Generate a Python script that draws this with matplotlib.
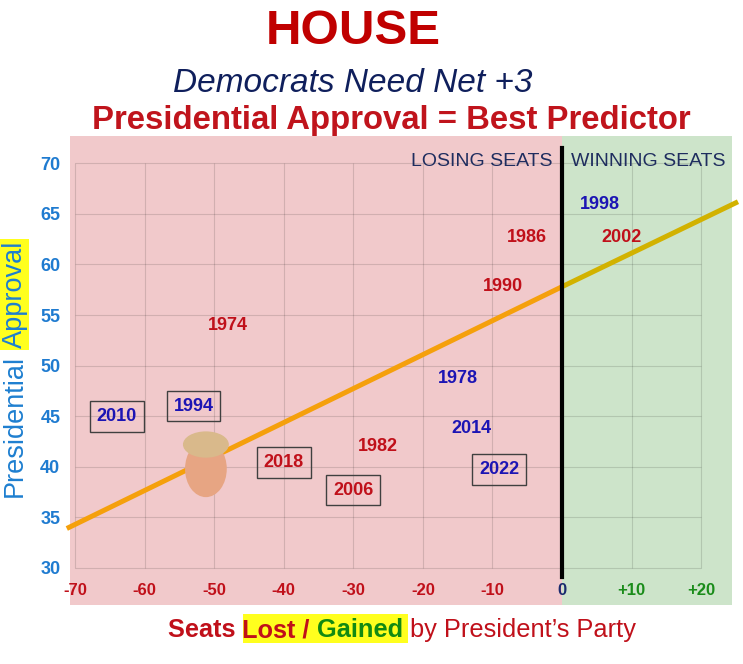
import matplotlib
matplotlib.use('Agg')
import matplotlib.pyplot as plt
from matplotlib.patches import Ellipse, Rectangle

plt.rcParams['font.family'] = ['Liberation Sans', 'DejaVu Sans']

# midterm elections: seats lost/gained vs presidential approval
years = ['1974', '2010', '1994', '2018', '1982', '2006', '1978', '2014', '2022',
         '1990', '1986', '1998', '2002']
seats = [-48, -64, -53, -40, -26.5, -30, -15, -13, -9, -8.5, -5, 5.5, 8.5]
approval = [54, 45, 46, 40.4, 42, 37.7, 48.7, 43.8, 39.7, 57.8, 62.7, 65.9, 62.7]
party = ['R', 'D', 'D', 'R', 'R', 'R', 'D', 'D', 'D', 'R', 'R', 'D', 'R']
boxed = ['2010', '1994', '2018', '2006', '2022']

# trend line
fit_x = [-71.2, 0, 25.3]
fit_y = [33.9, 57.8, 66.2]

# 2026 marker (face)
face_seats = -51.2
face_approval = 40.3

xticks = [-70, -60, -50, -40, -30, -20, -10, 0, 10, 20]
xlabels = ['-70', '-60', '-50', '-40', '-30', '-20', '-10', '0', '+10', '+20']
yticks = [30, 35, 40, 45, 50, 55, 60, 65, 70]

RED = '#c0101a'
BLUE = '#1c14b4'
YELLOW = '#ffff1e'
party_color = {'R': RED, 'D': BLUE}

W, H = 743, 664
fig = plt.figure(figsize=(W / 100, H / 100), dpi=100)
ax = fig.add_axes([0.0942, 0.0889, 0.891, 0.7063])
xmin, xmax = -70.74, 24.44
ymin, ymax = 26.34, 72.7
ax.set_xlim(xmin, xmax)
ax.set_ylim(ymin, ymax)

ax.axvspan(xmin, 0, color='#f1c9cb', zorder=0, lw=0)
ax.axvspan(0, xmax, color='#cde4ca', zorder=0, lw=0)

# grid only over the data range
ax.vlines(xticks, 30, 70, color='black', alpha=0.13, lw=0.8, zorder=1)
ax.hlines(yticks, -70, 20, color='black', alpha=0.13, lw=0.8, zorder=1)

# trend line, olive where it crosses the green zone
ax.plot(fit_x[:2], fit_y[:2], color='#f5a00c', lw=3.6, zorder=2,
        solid_capstyle='butt', clip_on=False)
ax.plot(fit_x[1:], fit_y[1:], color='#d2b200', lw=3.6, zorder=2,
        solid_capstyle='butt', clip_on=False)

ax.plot([0, 0], [29.1, 71.5], color='black', lw=3, zorder=3)

for yr, sx, ay, p in zip(years, seats, approval, party):
    kw = {}
    if yr in boxed:
        kw['bbox'] = dict(boxstyle='square,pad=0.38', fc='none', ec='#404040', lw=1)
    ax.text(sx, ay, yr, color=party_color[p], fontsize=13, fontweight='bold',
            ha='center', va='center', zorder=5, **kw)

# stylised face
ax.add_patch(Ellipse((face_seats, face_approval - 0.5), 6.0, 5.6,
                     fc='#e7a583', ec='none', zorder=4))
ax.add_patch(Ellipse((face_seats, face_approval + 1.9), 6.6, 2.6,
                     fc='#d9b98b', ec='none', zorder=4))

ax.text(-1.3, 70.15, 'LOSING SEATS', color='#1f2d5f', fontsize=14,
        ha='right', va='center', zorder=5)
ax.text(1.25, 70.15, 'WINNING SEATS', color='#1f2d5f', fontsize=14,
        ha='left', va='center', zorder=5)

for s in ax.spines.values():
    s.set_visible(False)
ax.set_xticks(xticks, xlabels)
ax.set_yticks(yticks)
ax.tick_params(axis='both', length=0)
ax.tick_params(axis='x', pad=-16, labelsize=12)
ax.tick_params(axis='y', pad=7, labelsize=13)
for lab in ax.get_yticklabels():
    lab.set_color('#1f7bd0')
    lab.set_fontweight('bold')
for lab, v in zip(ax.get_xticklabels(), xticks):
    lab.set_fontweight('bold')
    lab.set_color(RED if v < 0 else ('#1a2a6e' if v == 0 else '#1a8c1a'))

# titles
fig.text(353 / W, 1 - 32 / H, 'HOUSE', color='#c00000', fontsize=35.5,
         fontweight='bold', ha='center', va='center')
fig.text(353 / W, 1 - 83 / H, 'Democrats Need Net +3', color='#0f1f5c',
         fontsize=24, style='italic', ha='center', va='center')
fig.text(391 / W, 1 - 121 / H, 'Presidential Approval = Best Predictor',
         color='#c0141c', fontsize=23.7, fontweight='bold', ha='center', va='center')

renderer = fig.canvas.get_renderer()

# x label in pieces, placed one after the other
pieces = [('Seats ', RED, 'bold'), ('Lost / ', RED, 'bold'),
          ('Gained', '#128a12', 'bold'),
          (' by President\u2019s Party', RED, 'normal')]
x0 = 168
hl = []
for txt, c, w in pieces:
    t = fig.text(x0 / W, 1 - 637 / H, txt, color=c, fontsize=18.3,
                 fontweight=w, ha='left', va='baseline', zorder=5)
    ext = t.get_window_extent(renderer)
    hl.append((ext.x0, ext.x1))
    x0 = ext.x1
hx0 = hl[1][0] + 1
hx1 = hl[2][1] + 5
fig.add_artist(Rectangle((hx0 / W, 1 - 643 / H), (hx1 - hx0) / W, 29 / H,
                         transform=fig.transFigure, fc=YELLOW, ec='none', zorder=1))

# y label in pieces
t = fig.text(15 / W, 1 - 497 / H, 'Presidential', color='#1e7fd0',
             fontsize=19.5, rotation=90, ha='center', va='bottom', zorder=5)
ext = t.get_window_extent(renderer)
t2 = fig.text(15 / W, (ext.y1 + 7) / H, 'Approval', color='#1e7fd0',
              fontsize=19.5, rotation=90, ha='center', va='bottom', zorder=5)
ext2 = t2.get_window_extent(renderer)
fig.add_artist(Rectangle((0, (ext2.y0 - 2) / H), 29 / W, (ext2.height + 3) / H,
                         transform=fig.transFigure, fc=YELLOW, ec='none', zorder=1))

fig.savefig('out.png', dpi=100)
